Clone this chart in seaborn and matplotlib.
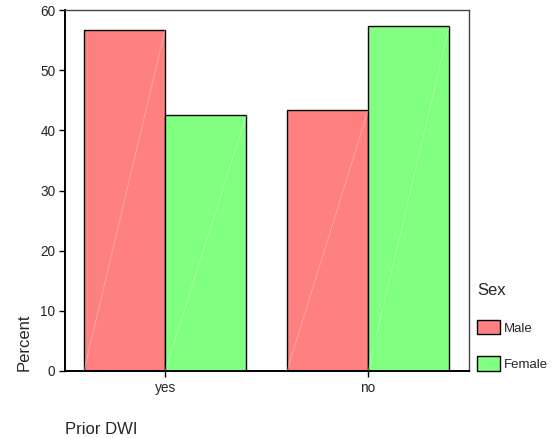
import numpy as np
import pandas as pd
import seaborn as sns
import matplotlib.pyplot as plt

# Data
prior_dwi = ['yes', 'no']
male_pct = [56.7, 43.3]
female_pct = [42.5, 57.4]
sexes = ['Male', 'Female']
colors = {'Male': '#FF8080', 'Female': '#80FF80'}

rows = []
for i, cat in enumerate(prior_dwi):
    rows.append({'Prior DWI': cat, 'Sex': 'Male', 'Percent': male_pct[i]})
    rows.append({'Prior DWI': cat, 'Sex': 'Female', 'Percent': female_pct[i]})
df = pd.DataFrame(rows)

sns.set_style('white')
plt.rcParams['font.family'] = ['Liberation Sans', 'DejaVu Sans']

fig = plt.figure(figsize=(5.59, 4.38), dpi=100)
ax = fig.add_axes([65 / 559, 1 - 371 / 438, 404 / 559, 361 / 438])

sns.barplot(data=df, x='Prior DWI', y='Percent', hue='Sex', order=prior_dwi,
            hue_order=sexes, palette=colors, saturation=1, width=0.8,
            edgecolor='black', linewidth=1.0, errorbar=None, ax=ax)

# faint white diagonal inside each bar (as in the original rendering)
for p in ax.patches:
    if p.get_height() > 0:
        x0, w, h = p.get_x(), p.get_width(), p.get_height()
        ax.plot([x0, x0 + w], [0, h], color='white', lw=0.6, alpha=0.35, zorder=3)

ax.set_ylim(0, 60)
ax.set_xlim(-0.493, 1.497)
ax.set_yticks([0, 10, 20, 30, 40, 50, 60])
ax.tick_params(axis='both', labelsize=9.8, length=4, width=1, color='black',
               direction='out', pad=3)
ax.tick_params(axis='y', left=True)
ax.tick_params(axis='x', bottom=True)

for side in ['left', 'bottom']:
    ax.spines[side].set_color('black')
    ax.spines[side].set_linewidth(1.4)
for side in ['top', 'right']:
    ax.spines[side].set_color('#444444')
    ax.spines[side].set_linewidth(1.0)

ax.set_ylabel('Percent', fontsize=12, loc='bottom', labelpad=6)
ax.set_xlabel('Prior DWI', fontsize=12, loc='left', labelpad=20)

leg = ax.legend(title='Sex', loc='lower left', bbox_to_anchor=(1.02, 0.0),
                frameon=False, fontsize=9.5, title_fontsize=12,
                handlelength=1.75, handleheight=1.3, handletextpad=0.25,
                labelspacing=1.65, borderaxespad=0, borderpad=0)
leg._legend_box.align = 'left'
for hnd in leg.legend_handles:
    hnd.set_edgecolor('black')
    hnd.set_linewidth(1.0)

fig.savefig('out.png', dpi=100)
